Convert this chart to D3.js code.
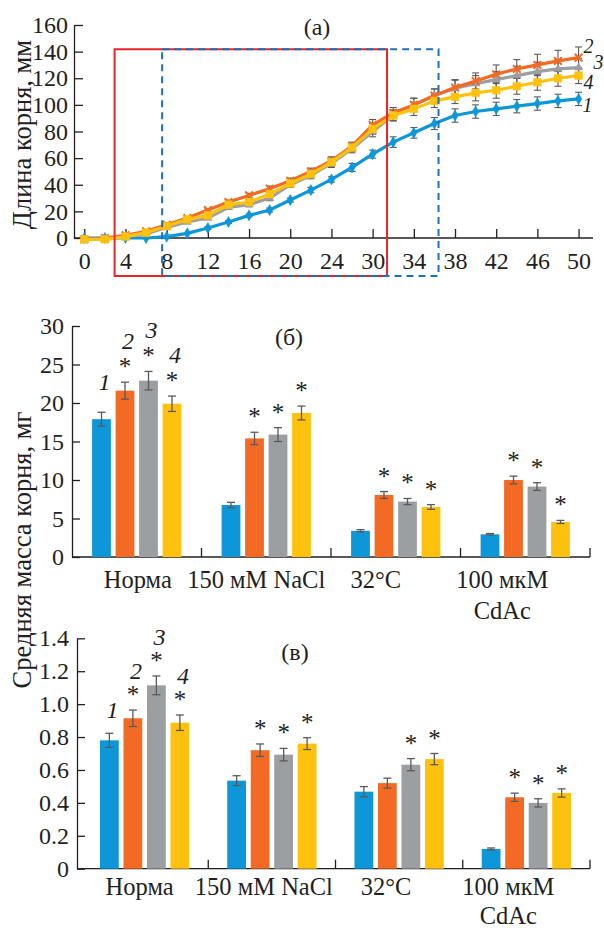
<!DOCTYPE html>
<html>
<head>
<meta charset="utf-8">
<script src="https://cdn.jsdelivr.net/npm/d3@7"></script>
<style>
  html, body { margin: 0; padding: 0; background: #fff; }
  svg { display: block; }
  text { font-family: "Liberation Serif", "Times New Roman", serif; fill: #231f20; }
</style>
</head>
<body>
<svg id="chart" width="604" height="931"></svg>
<script>
// ---------- DATA ----------
// Panel (a): root length, mm, 25 time points (axis labels at every other point)
const xTickLabelsA = ["0", "4", "8", "12", "16", "20", "24", "30", "34", "38", "42", "46", "50"];
const seriesNames = ["1", "2", "3", "4"];
const lenBlue   = [0, 0, 0, 0, 1, 3.5, 7.5, 12, 17, 21, 28.5, 36, 44, 53, 63, 72, 79, 86, 92, 95, 97, 99, 101, 103, 104.5];
const lenOrange = [-1, 0, 2, 5, 10, 15, 21, 27, 32, 37, 43, 50, 58, 69, 85, 94, 100, 107, 113, 118, 123, 127, 130, 133, 135.5];
const lenGrey   = [-1, -1, 1, 3, 8, 12, 15, 23, 25, 30, 40, 47, 56, 67, 80, 92, 100, 107, 112.5, 116, 119, 122, 125, 127, 128];
const lenYellow = [-1, -1, 1, 4, 9, 14, 17, 25, 27, 33, 41, 48, 57, 68, 82, 92, 97, 103, 106, 109, 111, 114, 117, 120, 122];
const errBlue   = [0, 0, 0, 0, 0.5, 0.5, 1, 1, 1, 1.5, 1.5, 2, 2, 3, 3, 4, 4, 4.5, 5, 5, 5, 5, 5, 5, 5];
const errOrange = [0, 0, 0.5, 0.5, 1, 1, 1, 1.5, 1.5, 2, 2, 2.5, 3, 3, 4, 4, 5, 5, 6, 6, 7, 7, 8, 8, 8];
const errGrey   = [0, 0, 0.5, 0.5, 1, 1, 1, 1.5, 1.5, 2, 2, 2.5, 3, 3, 4, 4, 5, 5, 6, 6, 6, 7, 7, 7, 7];
const errYellow = [0, 0, 0.5, 0.5, 1, 1, 1, 1.5, 1.5, 2, 2, 2.5, 3, 3, 4, 4, 5, 5, 5, 6, 6, 6, 6, 6, 6];
// highlighted windows (in point-index / mm units)
const redBox  = [1.47, 14.7, -28.5, 141.7];
const blueBox = [3.78, 17.2, -28.5, 141.7];

// Panels (б), (в)
const categories = [["Норма"], ["150 мМ NaCl"], ["32°C"], ["100 мкМ", "CdAc"]];
const massMean = [[17.9, 21.6, 22.9, 19.9], [6.75, 15.4, 15.9, 18.7], [3.4, 8.05, 7.2, 6.5], [2.95, 10.0, 9.15, 4.55]];
const massErr  = [[0.9, 1.1, 1.2, 1.0], [0.35, 0.8, 0.9, 0.9], [0.15, 0.45, 0.4, 0.3], [0.1, 0.5, 0.5, 0.2]];
const massStar = [[0, 1, 1, 1], [0, 1, 1, 1], [0, 1, 1, 1], [0, 1, 1, 1]];
const dryMean  = [[0.78, 0.914, 1.114, 0.887], [0.535, 0.72, 0.693, 0.76], [0.468, 0.52, 0.632, 0.666], [0.12, 0.434, 0.40, 0.46]];
const dryErr   = [[0.043, 0.05, 0.057, 0.047], [0.03, 0.038, 0.038, 0.036], [0.031, 0.03, 0.037, 0.034], [0.006, 0.025, 0.025, 0.025]];
const dryStar  = [[0, 1, 1, 1], [0, 1, 1, 1], [0, 0, 1, 1], [0, 1, 1, 1]];
const massTicks = [0, 5, 10, 15, 20, 25, 30];
const dryTicks  = [0, 0.2, 0.4, 0.6, 0.8, 1.0, 1.2, 1.4];

// ---------- STYLE ----------
const colors = ["#0d97d8", "#f26a23", "#9b9fa2", "#fec20e"];
const axisColor = "#231f20";
const errColor = "#5a5a5a";
const svg = d3.select("#chart");

// ---------- PANEL (a) ----------
{
  const x = d3.scaleLinear().domain([-0.5, 24.7]).range([74, 593]);
  const y = d3.scaleLinear().domain([0, 160]).range([238, 25]);
  const g = svg.append("g");

  // axes
  const xAxis = d3.axisBottom(x)
    .tickValues(xTickLabelsA.map((d, i) => i * 2))
    .tickFormat((d, i) => xTickLabelsA[i])
    .tickSizeInner(-9).tickSizeOuter(0).tickPadding(14);
  const ax = g.append("g").attr("transform", `translate(0,${y(0)})`).call(xAxis);
  const yAxis = d3.axisLeft(y).tickValues(d3.range(0, 161, 20))
    .tickSizeInner(-9).tickSizeOuter(0).tickPadding(6);
  const ay = g.append("g").attr("transform", `translate(${x.range()[0]},0)`).call(yAxis);
  [ax, ay].forEach(a => {
    a.selectAll("path, line").attr("stroke", axisColor).attr("stroke-width", 1.3);
    a.selectAll("text").attr("font-size", 24).attr("fill", axisColor)
      .style("font-family", '"Liberation Serif", serif');
  });
  ax.selectAll("text").attr("dy", "0.71em");
  ax.select(".domain").attr("d", `M${x.range()[0]},0H${x.range()[1]}`);

  // series
  const series = [lenBlue, lenOrange, lenGrey, lenYellow];
  const errs = [errBlue, errOrange, errGrey, errYellow];
  const line = d3.line().x((d, i) => x(i)).y(d => y(d));
  const symbols = [d3.symbolDiamond, d3.symbolX, d3.symbolTriangle, d3.symbolSquare];
  const symSize = [36, 40, 30, 60];
  const drawOrder = [0, 2, 1, 3];
  drawOrder.forEach(s => {
    const vals = series[s];
    const eg = g.append("g");
    vals.forEach((v, i) => {
      const e = errs[s][i];
      if (e <= 0.5) return;
      eg.append("line").attr("x1", x(i)).attr("x2", x(i)).attr("y1", y(v - e)).attr("y2", y(v + e))
        .attr("stroke", errColor).attr("stroke-width", 1.1);
      [v - e, v + e].forEach(t => eg.append("line").attr("x1", x(i) - 3.5).attr("x2", x(i) + 3.5)
        .attr("y1", y(t)).attr("y2", y(t)).attr("stroke", errColor).attr("stroke-width", 1.1));
    });
  });
  drawOrder.forEach(s => {
    const vals = series[s];
    g.append("path").datum(vals).attr("d", line).attr("fill", "none")
      .attr("stroke", colors[s]).attr("stroke-width", 3.2).attr("stroke-linejoin", "round");
    g.append("g").selectAll("path").data(vals).join("path")
      .attr("transform", (d, i) => `translate(${x(i)},${y(d)})`)
      .attr("d", d3.symbol().type(symbols[s]).size(symSize[s]))
      .attr("fill", s === 1 ? "none" : colors[s])
      .attr("stroke", colors[s]).attr("stroke-width", s === 1 ? 2 : 0.5);
  });

  // windows
  const rectPath = b => `M${x(b[0])},${y(b[3])}H${x(b[1])}V${y(b[2])}H${x(b[0])}Z`;
  g.append("path").attr("d", rectPath(redBox)).attr("fill", "none")
    .attr("stroke", "#ec2227").attr("stroke-width", 2);
  g.append("path").attr("d", rectPath(blueBox)).attr("fill", "none")
    .attr("stroke", "#1f6fb9").attr("stroke-width", 2).attr("stroke-dasharray", "7,5");

  // series labels at line ends
  const lastIdx = lenBlue.length - 1;
  const endVals = [lenBlue[lastIdx], lenOrange[lastIdx], lenGrey[lastIdx], lenYellow[lastIdx]];
  const labelDy = [13, -5, 1, 13];
  const labelDx = [4, 5, 15, 5];
  endVals.forEach((v, s) => {
    g.append("text").attr("x", x(lastIdx) + labelDx[s]).attr("y", y(v) + labelDy[s])
      .attr("font-size", 20).attr("font-style", "italic").text(seriesNames[s]);
  });

  // title + y label
  g.append("text").attr("x", 317).attr("y", 35).attr("text-anchor", "middle")
    .attr("font-size", 24).text("(а)");
  g.append("text").attr("transform", `translate(31,${(y(0) + y(160)) / 2 + 3}) rotate(-90)`)
    .attr("text-anchor", "middle").attr("font-size", 26.5).text("Длина корня, мм");
}

// ---------- BAR PANELS ----------
function barPanel(opts) {
  const { means, errsArr, stars, ticks, yMax, yTop, yBottom, axisX, catRange, tickFmt,
          title, titleX, titleY, labelDx, labelBase, lineGap, numAbove, numAboveBlue } = opts;
  const g = svg.append("g");
  const y = d3.scaleLinear().domain([0, yMax]).range([yBottom, yTop]);
  const x0 = d3.scaleBand().domain(d3.range(categories.length)).range(catRange).padding(0);
  const x1 = d3.scaleBand().domain(d3.range(4)).range([-47, 47]).paddingInner(0.2).paddingOuter(0.1);

  // y axis
  const ay = g.append("g").attr("transform", `translate(${axisX},0)`)
    .call(d3.axisLeft(y).tickValues(ticks).tickFormat(tickFmt).tickSizeInner(-8).tickSizeOuter(0).tickPadding(8));
  ay.selectAll("path, line").attr("stroke", axisColor).attr("stroke-width", 1.3);
  ay.selectAll("text").attr("font-size", 24).attr("fill", axisColor).style("font-family", '"Liberation Serif", serif');

  // x axis line & separators
  g.append("line").attr("x1", axisX).attr("x2", catRange[1]).attr("y1", y(0)).attr("y2", y(0))
    .attr("stroke", axisColor).attr("stroke-width", 1.3);
  d3.range(1, categories.length + 1).forEach(i => {
    const xx = catRange[0] + i * x0.step();
    g.append("line").attr("x1", xx).attr("x2", xx).attr("y1", y(0)).attr("y2", y(0) - 9)
      .attr("stroke", axisColor).attr("stroke-width", 1.3);
  });

  categories.forEach((cat, c) => {
    const cx = x0(c) + x0.bandwidth() / 2;
    means[c].forEach((v, s) => {
      const bx = cx + x1(s);
      const bw = x1.bandwidth();
      const e = errsArr[c][s];
      g.append("rect").attr("x", bx).attr("y", y(v)).attr("width", bw).attr("height", y(0) - y(v))
        .attr("fill", colors[s]);
      const mx = bx + bw / 2;
      g.append("line").attr("x1", mx).attr("x2", mx).attr("y1", y(v - e)).attr("y2", y(v + e))
        .attr("stroke", errColor).attr("stroke-width", 1.3);
      [v - e, v + e].forEach(t => g.append("line").attr("x1", mx - 4).attr("x2", mx + 4)
        .attr("y1", y(t)).attr("y2", y(t)).attr("stroke", errColor).attr("stroke-width", 1.3));
      const top = y(v + e);
      if (stars[c][s]) {
        g.append("text").attr("x", mx).attr("y", top - 7).attr("text-anchor", "middle")
          .attr("font-size", 25).text("*");
      }
      if (c === 0) {
        const cyNum = s === 0 ? top - numAboveBlue : top - numAbove;
        g.append("text").attr("x", mx + 3).attr("y", cyNum + 8).attr("text-anchor", "middle")
          .attr("font-size", 24).attr("font-style", "italic").text(seriesNames[s]);
      }
    });
    cat.forEach((ln, k) => {
      g.append("text").attr("x", cx + labelDx[c]).attr("y", labelBase + k * lineGap)
        .attr("text-anchor", "middle").attr("font-size", 24.5).text(ln);
    });
  });

  g.append("text").attr("x", titleX).attr("y", titleY).attr("text-anchor", "middle")
    .attr("font-size", 24).text(title);
}

barPanel({
  means: massMean, errsArr: massErr, stars: massStar, ticks: massTicks, yMax: 30,
  yTop: 326, yBottom: 557, axisX: 72, catRange: [72, 590], tickFmt: d3.format("d"),
  title: "(б)", titleX: 289, titleY: 345, labelDx: [1, -10, -20, -23], labelBase: 588, lineGap: 31,
  numAbove: 41, numAboveBlue: 30
});
barPanel({
  means: dryMean, errsArr: dryErr, stars: dryStar, ticks: dryTicks, yMax: 1.4,
  yTop: 638.3, yBottom: 868.7, axisX: 77, catRange: [81, 590],
  tickFmt: d => d === 0 ? "0" : d3.format(".1f")(d),
  title: "(в)", titleX: 295, titleY: 660, labelDx: [-5, -8, -13, -18], labelBase: 895, lineGap: 29,
  numAbove: 39, numAboveBlue: 23
});

// shared y label for (б) and (в)
svg.append("text").attr("transform", "translate(31,550) rotate(-90)")
  .attr("text-anchor", "middle").attr("font-size", 26.5).text("Средняя масса корня, мг");
</script>
</body>
</html>
